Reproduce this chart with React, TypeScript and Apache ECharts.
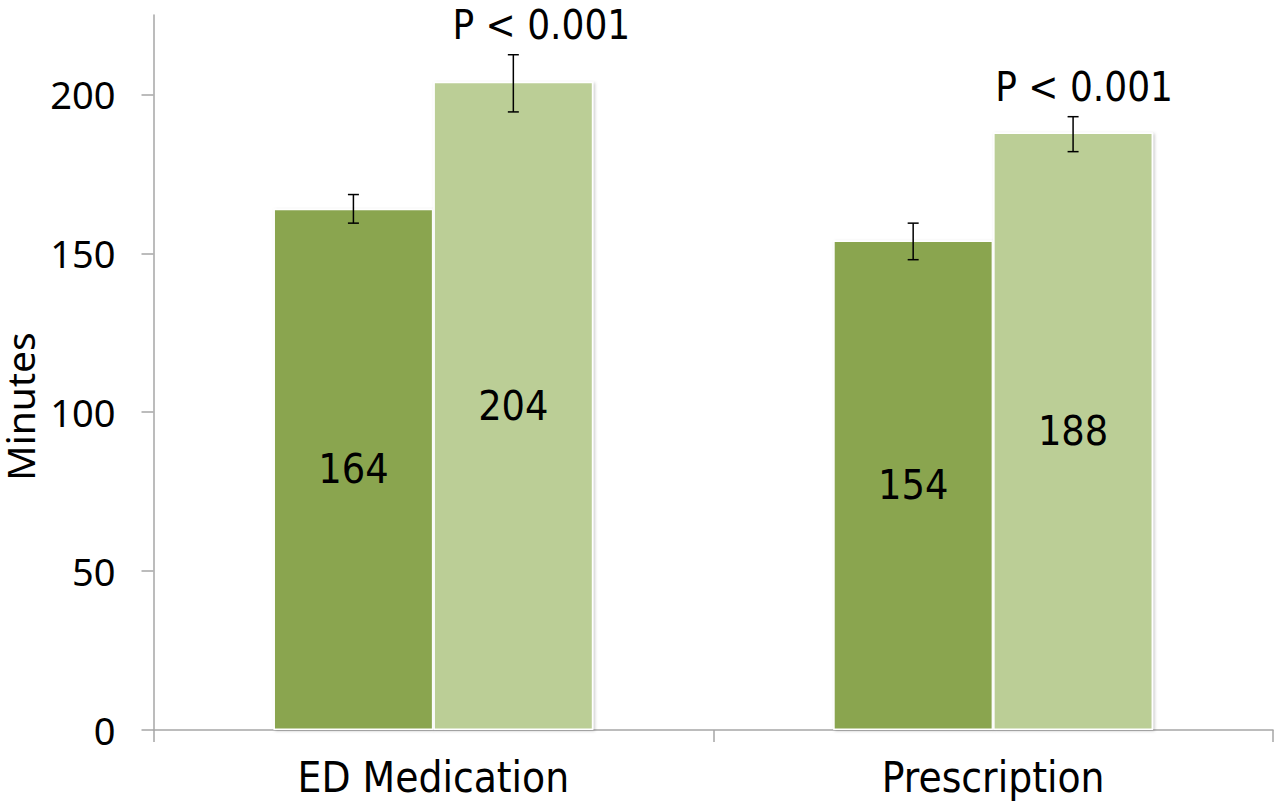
import React, { useEffect, useRef } from "react";
import * as echarts from "echarts";

const categories = ["ED Medication", "Prescription"];
const darkValues = [164, 154];
const lightValues = [204, 188];
const darkErrLow = [159.5, 148];
const darkErrHigh = [168.5, 159.5];
const lightErrLow = [194.5, 182];
const lightErrHigh = [212.5, 193];
const pLabels = ["P < 0.001", "P < 0.001"];
const yTicks = [0, 50, 100, 150, 200];

const DARK = "#8aa54f";
const LIGHT = "#bbce96";
const AXIS = "#a6a6a6";
const NUM_FONT = "'DejaVu Sans Condensed', 'DejaVu Sans', sans-serif";
const AXIS_FONT = "'Noto Sans', 'Open Sans', sans-serif";

const BAR_FRAC = 0.2857;
const pLabelDx = [28, 11];

function errorSeries(low: number[], high: number[], side: number, withP: boolean) {
  return {
    type: "custom",
    z: 5,
    silent: true,
    data: low.map((l, i) => [i, l, high[i]]),
    renderItem: (params: any, api: any) => {
      const idx = api.value(0);
      const band = api.size([1, 0])[0];
      const cx = api.coord([idx, 0])[0] + side * band * BAR_FRAC * 0.5;
      const yl = api.coord([idx, api.value(1)])[1];
      const yh = api.coord([idx, api.value(2)])[1];
      const cap = 5.5;
      const st = { stroke: "#000", lineWidth: 1.5 };
      const children: any[] = [
        { type: "line", shape: { x1: cx, y1: yl, x2: cx, y2: yh }, style: st },
        { type: "line", shape: { x1: cx - cap, y1: yh, x2: cx + cap, y2: yh }, style: st },
        { type: "line", shape: { x1: cx - cap, y1: yl, x2: cx + cap, y2: yl }, style: st },
      ];
      if (withP) {
        children.push({
          type: "text",
          x: cx + pLabelDx[params.dataIndex],
          y: yh - 30,
          style: {
            text: pLabels[params.dataIndex],
            fontSize: 40,
            fontFamily: NUM_FONT,
            fill: "#000",
            align: "center",
            verticalAlign: "middle",
          },
        });
      }
      return { type: "group", children };
    },
  };
}

export default function App() {
  const ref = useRef<HTMLDivElement>(null);
  useEffect(() => {
    document.body.style.margin = "0";
    const chart = echarts.init(ref.current!, null, { renderer: "svg" });
    const barStyle = (color: string) => ({
      color,
      borderColor: "#ffffff",
      borderWidth: 1.5,
      shadowColor: "rgba(0,0,0,0.22)",
      shadowBlur: 3,
      shadowOffsetX: 1.5,
      shadowOffsetY: 1,
    });
    const barLabel = {
      show: true,
      position: "inside",
      fontSize: 41,
      fontFamily: NUM_FONT,
      color: "#000",
    };
    chart.setOption({
      animation: false,
      backgroundColor: "#ffffff",
      grid: { left: 153.5, right: 2, top: 15, bottom: 73, outerBoundsMode: "none", containLabel: false },
      xAxis: {
        type: "category",
        data: categories,
        axisLine: { show: true, lineStyle: { color: AXIS, width: 1.5 } },
        axisTick: { show: true, length: 12, lineStyle: { color: AXIS, width: 1.5 } },
        axisLabel: { fontSize: 42, fontFamily: NUM_FONT, color: "#000", margin: 26 },
      },
      yAxis: {
        type: "value",
        min: 0,
        max: 225,
        interval: 50,
        name: "Minutes",
        nameLocation: "middle",
        nameRotate: 90,
        nameGap: 103,
        nameTextStyle: { fontSize: 39, fontFamily: AXIS_FONT, color: "#000", padding: [0, 68, 0, 0], lineHeight: 36 },
        splitLine: { show: false },
        axisLine: { show: true, lineStyle: { color: AXIS, width: 1.5 } },
        axisTick: { show: true, length: 12, customValues: yTicks, lineStyle: { color: AXIS, width: 1.5 } },
        axisLabel: { fontSize: 38, fontFamily: AXIS_FONT, color: "#000", margin: 38, customValues: yTicks },
      },
      series: [
        {
          type: "bar",
          data: darkValues,
          barWidth: "28.57%",
          barGap: "0%",
          itemStyle: barStyle(DARK),
          label: barLabel,
        },
        {
          type: "bar",
          data: lightValues,
          barWidth: "28.57%",
          barGap: "0%",
          itemStyle: barStyle(LIGHT),
          label: barLabel,
        },
        errorSeries(darkErrLow, darkErrHigh, -1, false),
        errorSeries(lightErrLow, lightErrHigh, 1, true),
      ],
    });
    return () => chart.dispose();
  }, []);
  return <div ref={ref} style={{ width: 1275, height: 803 }} />;
}
